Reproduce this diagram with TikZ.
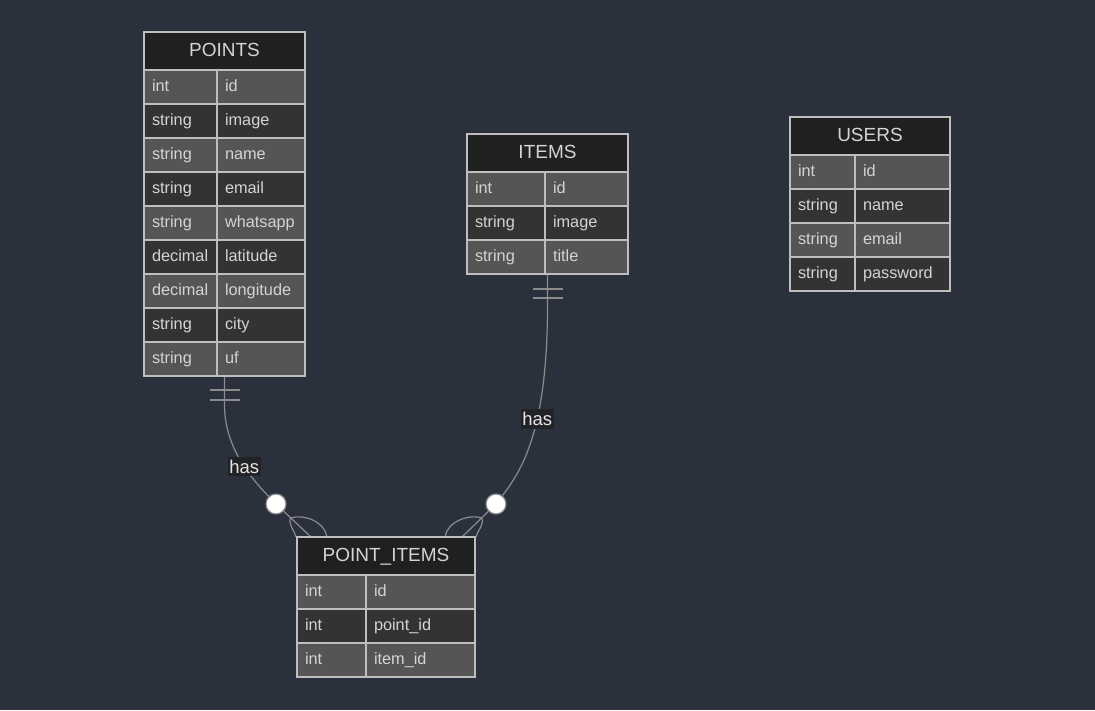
\documentclass[tikz,border=0pt]{standalone}
\usepackage{fontspec}
\setmainfont{Liberation Sans}
\usetikzlibrary{calc,backgrounds}
\definecolor{bg}{RGB}{42,48,60}
\definecolor{hdrc}{RGB}{31,32,32}
\definecolor{rowA}{RGB}{85,85,85}
\definecolor{rowB}{RGB}{51,51,51}
\definecolor{bord}{RGB}{190,190,190}
\definecolor{txt}{RGB}{212,212,212}
\definecolor{linec}{RGB}{140,140,140}
\definecolor{lblbg}{RGB}{34,35,38}
\tikzset{
 hdrbox/.style={draw=bord, fill=hdrc, line width=1.5pt, minimum height=38pt, inner sep=0pt, outer sep=0pt, text=txt, font=\fontsize{19}{22}\selectfont, text height=13.5pt, text depth=3pt, anchor=north west},
 cellbox/.style={draw=bord, line width=1.5pt, minimum height=34pt, inner xsep=8pt, inner ysep=0pt, outer sep=0pt, text=txt, font=\fontsize{16.3}{19}\selectfont, text height=12pt, text depth=4pt, align=left, anchor=north west},
 conn/.style={draw=linec, line width=1.2pt},
 zcirc/.style={circle, draw=linec, fill=white, line width=1.2pt, minimum size=20pt, inner sep=0pt},
 lbl/.style={fill=lblbg, text=white!90!black, font=\fontsize{18.5}{21}\selectfont, inner xsep=1.5pt, inner ysep=3pt}
}
\newcommand\ertable[7]{%
 \pgfmathsetmacro\ertw{#4+#5}%
 \node[hdrbox, minimum width=\ertw pt] (#1-h) at (#2,#3) {#6};
 \pgfmathsetmacro\ertwa{#4-16}%
 \pgfmathsetmacro\ertwb{#5-16}%
 \foreach \ty/\nm [count=\i] in {#7} {
   \ifodd\i\relax \def\rc{rowA}\else\def\rc{rowB}\fi
   \pgfmathsetmacro\yy{#3+38+(\i-1)*34}
   \pgfmathsetmacro\xb{#2+#4}
   \node[cellbox, fill=\rc, text width=\ertwa pt] (#1-a\i) at (#2,\yy) {\ty};
   \node[cellbox, fill=\rc, text width=\ertwb pt] (#1-b\i) at (\xb,\yy) {\nm};
 }
}
\begin{document}
\begin{tikzpicture}[x=1pt,y=-1pt]
\useasboundingbox (0,0) rectangle (1095,710);
\ertable{points}{144}{32}{73}{88}{POINTS}{int/id, string/image, string/name, string/email, string/whatsapp, decimal/latitude, decimal/longitude, string/city, string/uf}
\ertable{items}{467}{134}{78}{83}{ITEMS}{int/id, string/image, string/title}
\ertable{users}{790}{117}{65}{95}{USERS}{int/id, string/name, string/email, string/password}
\ertable{pi}{297}{537}{69}{109}{POINT\_ITEMS}{int/id, int/point\_id, int/item\_id}
\node[zcirc] (lc) at (276,504) {};
\node[zcirc] (rc) at (496,504) {};
\coordinate (pe) at (points-h.center |- points-a9.south);
\coordinate (ie) at (items-h.center |- items-a3.south);
\coordinate (lf1) at ([xshift=14pt]pi-h.north west);
\coordinate (la) at ($(lc.center)!0.42!(lf1)$);
\coordinate (rf1) at ([xshift=-13pt]pi-h.north east);
\coordinate (ra) at ($(rc.center)!0.42!(rf1)$);
\begin{pgfonlayer}{background}
\fill[bg] (0,0) rectangle (1095,710);
\draw[conn] (pe) -- ++(0,29) .. controls ++(0,40) and (248,475) .. (lc) node[pos=0.6, lbl] (has1) {has};
\draw[conn] ($(pe)+(-15,14)$) -- ++(30,0);
\draw[conn] ($(pe)+(-15,24)$) -- ++(30,0);
\draw[conn] (ie) -- ++(0,31) .. controls ++(0,125) and (522,470) .. (rc) node[pos=0.4, lbl] (has2) {has};
\draw[conn] ($(ie)+(-15,15)$) -- ++(30,0);
\draw[conn] ($(ie)+(-15,24)$) -- ++(30,0);
\draw[conn] (lc) -- (lf1);
\draw[conn] (la) .. controls +(14,-4) and +(-2,-15) .. ([xshift=30pt]pi-h.north west);
\draw[conn] (la) .. controls +(-3,7) and +(-1,-6) .. ([xshift=-1pt]pi-h.north west);
\draw[conn] (rc) -- (rf1);
\draw[conn] (ra) .. controls +(-14,-4) and +(2,-15) .. ([xshift=-30pt]pi-h.north east);
\draw[conn] (ra) .. controls +(3,7) and +(1,-6) .. ([xshift=1pt]pi-h.north east);
\end{pgfonlayer}
\end{tikzpicture}
\end{document}
